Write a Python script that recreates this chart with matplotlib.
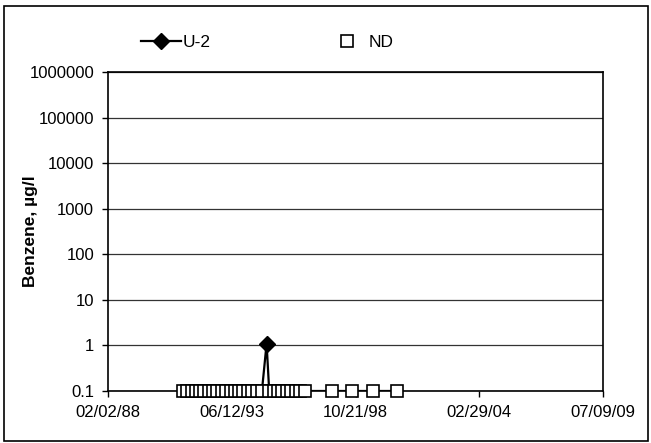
import matplotlib
matplotlib.use('Agg')
import matplotlib.pyplot as plt
from matplotlib.patches import Rectangle
from matplotlib.ticker import FixedLocator, FuncFormatter
from datetime import datetime, timedelta

plt.rcParams['font.family'] = ['Liberation Sans', 'DejaVu Sans']

# sampling dates for well U-2, value in ug/l (non-detects plotted at 0.1)
u2_dates = [
    '1991-05-02', '1991-07-10', '1991-09-16', '1991-11-20', '1992-01-28',
    '1992-04-06', '1992-06-15', '1992-08-24', '1992-10-29', '1993-01-07',
    '1993-03-15', '1993-05-24', '1993-08-02', '1993-10-11', '1993-12-13',
    '1994-02-22', '1994-05-02', '1994-07-18', '1994-10-02', '1994-12-15',
    '1995-01-25', '1995-04-04', '1995-06-12', '1995-08-21', '1995-10-30',
    '1996-01-08', '1996-03-18', '1996-05-20', '1996-08-06',
    '1997-10-11', '1998-08-28', '1999-07-21', '2000-08-03',
]
u2_values = [
    0.1, 0.1, 0.1, 0.1, 0.1,
    0.1, 0.1, 0.1, 0.1, 0.1,
    0.1, 0.1, 0.1, 0.1, 0.1,
    0.1, 0.1, 0.1, 0.1, 1.1,
    0.1, 0.1, 0.1, 0.1, 0.1,
    0.1, 0.1, 0.1, 0.1,
    0.1, 0.1, 0.1, 0.1,
]
# non-detect results
nd_dates = [d for d, v in zip(u2_dates, u2_values) if v == 0.1]
nd_values = [0.1] * len(nd_dates)

y_ticks = [0.1, 1, 10, 100, 1000, 10000, 100000, 1000000]
x_tick_labels = ['02/02/88', '06/12/93', '10/21/98', '02/29/04', '07/09/09']

to_dt = lambda s: datetime.strptime(s, '%Y-%m-%d')

fig = plt.figure(figsize=(6.51, 4.43), dpi=100)
fig.patches.append(Rectangle((0.006, 0.004), 0.99, 0.983, transform=fig.transFigure,
                             fill=False, edgecolor='black', linewidth=1.2))
ax = fig.add_axes([0.1659, 0.1174, 0.7604, 0.7201])

ax.plot([to_dt(d) for d in u2_dates], u2_values, color='black', linewidth=1.6,
        label='U-2', zorder=3)
# only the detected result carries a diamond
det = [(to_dt(d), v) for d, v in zip(u2_dates, u2_values) if v > 0.1]
ax.plot([p[0] for p in det], [p[1] for p in det], linestyle='none', marker='D',
        markersize=8, color='black', zorder=4)
ax.plot([to_dt(d) for d in nd_dates], nd_values, linestyle='none', marker='s',
        markersize=8, markerfacecolor='white', markeredgecolor='black',
        markeredgewidth=1.2, label='ND', zorder=5, clip_on=False)

ax.set_yscale('log')
ax.set_ylim(0.1, 1000000)
ax.yaxis.set_major_locator(FixedLocator(y_ticks))
ax.yaxis.set_minor_locator(FixedLocator([]))
ax.yaxis.set_major_formatter(FuncFormatter(lambda v, p: ('%g' % v) if v < 1 else '%d' % v))

x_ticks = [to_dt('1988-02-02') + timedelta(days=1957 * i) for i in range(5)]
ax.set_xlim(x_ticks[0], x_ticks[-1])
ax.set_xticks(x_ticks)
ax.set_xticklabels(x_tick_labels)

ax.grid(True, axis='y', color='#333333', linewidth=0.9)
ax.set_axisbelow(True)
for s in ax.spines.values():
    s.set_linewidth(1.2)
    s.set_color('black')
ax.tick_params(axis='both', direction='out', length=4, width=1, labelsize=12, pad=6)
ax.set_ylabel('Benzene, µg/l', fontsize=12.5, fontweight='bold')
ax.yaxis.set_label_coords(-0.141, 0.5)

# legend entries above the plot area
h_line, = ax.plot([], [], color='black', linewidth=1.6, marker='D', markersize=8)
h_nd, = ax.plot([], [], linestyle='none', marker='s', markersize=8,
                markerfacecolor='white', markeredgecolor='black', markeredgewidth=1.2)
ax.legend([h_line, h_nd], ['U-2', 'ND'], loc='lower left', bbox_to_anchor=(0.036, 1.02),
          ncol=2, frameon=False, fontsize=12.5, columnspacing=6.7, handlelength=2.3,
          handletextpad=0.1)

fig.savefig('out.png', dpi=100)
